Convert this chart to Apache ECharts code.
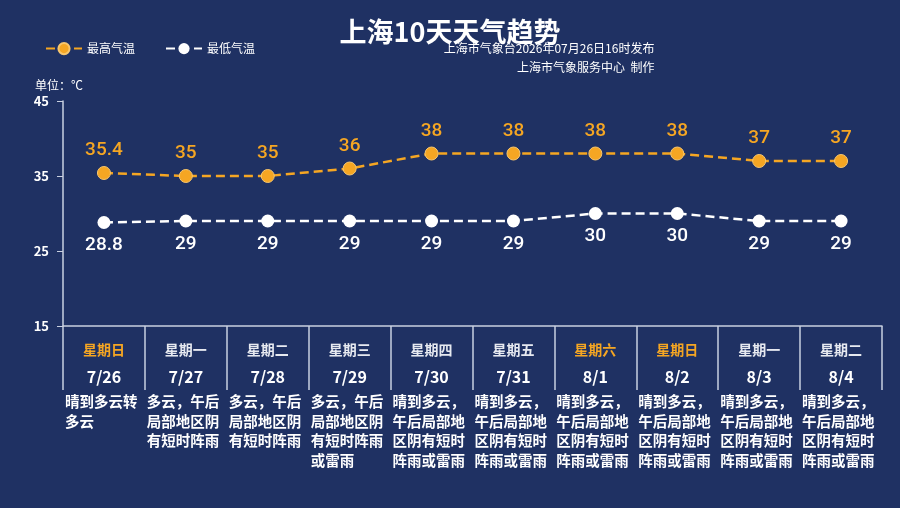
<!DOCTYPE html>
<html><head><meta charset="utf-8">
<script src="https://cdn.jsdelivr.net/npm/echarts@6/dist/echarts.min.js"></script>
<style>html,body{margin:0;padding:0;background:#1f3163}#c{width:900px;height:508px}</style>
</head><body><div id="c"></div>
<script>
var dates = ['7/26','7/27','7/28','7/29','7/30','7/31','8/1','8/2','8/3','8/4'];
var weekdays = ['星期日','星期一','星期二','星期三','星期四','星期五','星期六','星期日','星期一','星期二'];
var weather = [
  '晴到多云转\n多云',
  '多云，午后\n局部地区阴\n有短时阵雨',
  '多云，午后\n局部地区阴\n有短时阵雨',
  '多云，午后\n局部地区阴\n有短时阵雨\n或雷雨',
  '晴到多云，\n午后局部地\n区阴有短时\n阵雨或雷雨',
  '晴到多云，\n午后局部地\n区阴有短时\n阵雨或雷雨',
  '晴到多云，\n午后局部地\n区阴有短时\n阵雨或雷雨',
  '晴到多云，\n午后局部地\n区阴有短时\n阵雨或雷雨',
  '晴到多云，\n午后局部地\n区阴有短时\n阵雨或雷雨',
  '晴到多云，\n午后局部地\n区阴有短时\n阵雨或雷雨'
];
var highTemp = [35.4, 35, 35, 36, 38, 38, 38, 38, 37, 37];
var lowTemp = [28.8, 29, 29, 29, 29, 29, 30, 30, 29, 29];
var yTicks = [15, 25, 35, 45];

var orange = '#f5a623';
var lineCol = '#c9d0e0';
var font = '"Noto Sans CJK SC", "Noto Sans", sans-serif';

var chart = echarts.init(document.getElementById('c'));
chart.setOption({
  backgroundColor: '#1f3163',
  textStyle: {fontFamily: font},
  title: [{
    text: '上海10天天气趋势', left: 'center', top: 13,
    textStyle: {color: '#fff', fontSize: 27, fontWeight: 'bold', fontFamily: font}
  }, {
    text: '上海市气象台2026年07月26日16时发布\n上海市气象服务中心  制作',
    right: 30, top: 34, textAlign: 'right',
    textStyle: {color: '#fff', fontSize: 12, fontWeight: 'normal', lineHeight: 19, fontFamily: font, align: 'right'}
  }, {
    text: '单位：℃', left: 30, top: 74,
    textStyle: {color: '#fff', fontSize: 12, fontWeight: 'normal', fontFamily: font}
  }],
  legend: {
    left: 40, top: 37, itemWidth: 36, itemHeight: 14, itemGap: 30,
    textStyle: {color: '#fff', fontSize: 12},
    data: ['最高气温', '最低气温']
  },
  grid: [
    {left: 63, right: 18, top: 101, bottom: 182},
    {left: 63, right: 18, top: 326, bottom: 118}
  ],
  xAxis: [{
    type: 'category', gridIndex: 0, data: dates, boundaryGap: true,
    axisLine: {lineStyle: {color: lineCol, width: 1.5}},
    axisTick: {show: false}, axisLabel: {show: false}
  }, {
    type: 'category', gridIndex: 1, data: dates, position: 'top', boundaryGap: true,
    axisLine: {show: false}, axisTick: {show: false},
    splitLine: {show: true, interval: 0, lineStyle: {color: lineCol, width: 1.5}},
    axisLabel: {
      inside: true, interval: 0, margin: 10,
      formatter: function (v, i) {
        var w = weekdays[i];
        var st = (w === '星期日' || w === '星期六') ? 'we' : 'wd';
        return '{' + st + '|' + w + '}\n{d|' + v + '}';
      },
      rich: {
        we: {color: orange, fontSize: 14, fontWeight: 'bold', lineHeight: 28},
        wd: {color: '#e6e9f0', fontSize: 14, fontWeight: 'bold', lineHeight: 28},
        d: {color: '#fff', fontSize: 16, fontWeight: 'bold', lineHeight: 26}
      }
    }
  }, {
    type: 'category', gridIndex: 1, data: weather, position: 'bottom', boundaryGap: true,
    axisLine: {show: false}, axisTick: {show: false},
    axisLabel: {
      interval: 0, margin: 2,
      formatter: function (v) { return '{w|' + v.split('\n').join('}\n{w|') + '}'; },
      rich: {w: {color: '#fff', fontSize: 14.5, fontWeight: 'bold', width: 78, align: 'left', lineHeight: 19.5}}
    }
  }],
  yAxis: [{
    type: 'value', gridIndex: 0, min: 15, max: 45, interval: 10,
    axisLine: {show: true, lineStyle: {color: lineCol, width: 1.5}},
    axisTick: {show: true, length: 6, lineStyle: {color: lineCol}},
    splitLine: {show: false},
    axisLabel: {color: '#fff', fontSize: 13, fontWeight: 'bold', margin: 14,
      formatter: function (v) { return yTicks.indexOf(v) >= 0 ? v : ''; }}
  }, {
    type: 'value', gridIndex: 1, show: false
  }],
  series: [{
    name: '最高气温', type: 'line', data: highTemp, xAxisIndex: 0, yAxisIndex: 0,
    symbol: 'circle', symbolSize: 13,
    lineStyle: {color: orange, width: 2.5, type: [9, 5]},
    itemStyle: {color: orange, borderColor: '#f7c66e', borderWidth: 1},
    label: {show: true, position: 'top', distance: 6, color: orange, fontSize: 19, fontWeight: 500, fontFamily: 'Roboto'}
  }, {
    name: '最低气温', type: 'line', data: lowTemp, xAxisIndex: 0, yAxisIndex: 0,
    symbol: 'circle', symbolSize: 13,
    lineStyle: {color: '#fff', width: 2.5, type: [9, 5]},
    itemStyle: {color: '#fff'},
    label: {show: true, position: 'bottom', distance: 7, color: '#fff', fontSize: 19, fontWeight: 500, fontFamily: 'Roboto'}
  }]
});
</script></body></html>
